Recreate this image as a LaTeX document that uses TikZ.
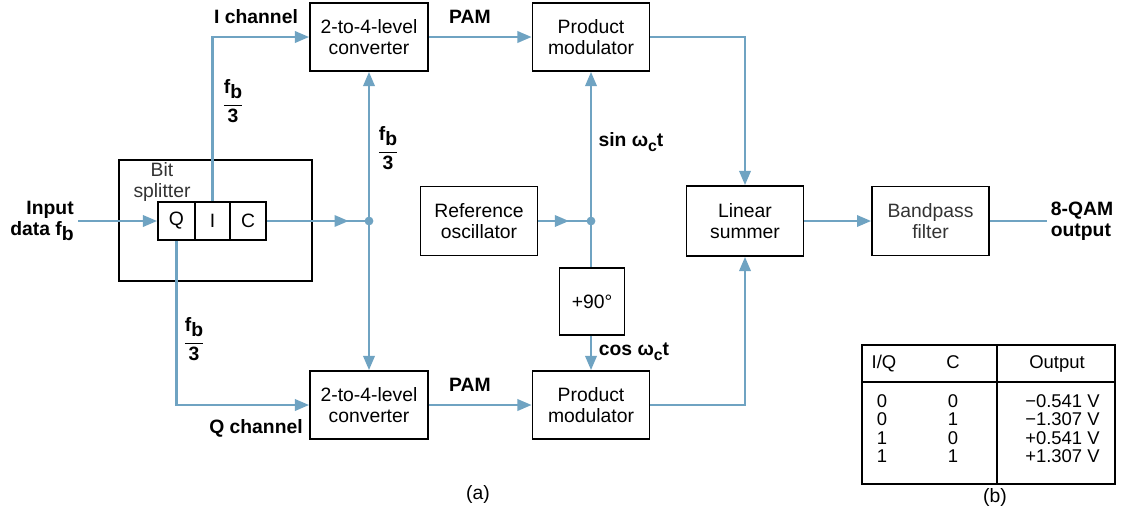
\documentclass[tikz,border=0pt]{standalone}
\usepackage{fontspec}
\setmainfont{Liberation Sans}
\usetikzlibrary{arrows.meta,decorations.markings}
\definecolor{wirec}{HTML}{6FA3C2}
\newcommand{\fbthree}{\begin{tabular}{@{}c@{}}f\raisebox{-0.5ex}{b}\\[2.5pt]\hline\noalign{\vskip 1.5pt}3\end{tabular}}
\newcommand{\omc}{ω\raisebox{-0.45ex}{\fontsize{9}{9}\selectfont c}}
\begin{document}
\begin{tikzpicture}[x=0.02cm,y=-0.02cm,
  font=\fontsize{11}{12}\selectfont,
  blk/.style={draw=black,line width=1.1pt,align=center,inner sep=0pt,minimum width=2.36cm,minimum height=1.36cm},
  cell/.style={draw=black,line width=1.1pt,inner sep=0pt,minimum height=0.76cm},
  wire/.style={draw=wirec,line width=1.2pt},
  tip/.style={-{Triangle[length=8pt,width=6.5pt]}},
  arr/.style={wire,tip},
  midarr/.style={wire,postaction={decorate},decoration={markings,mark=at position #1 with {\arrow{Triangle[length=8pt,width=6.5pt]}}}},
  lbl/.style={font=\fontsize{11}{12}\selectfont\bfseries,align=center,inner sep=0pt},
  frac/.style={font=\fontsize{11}{12}\selectfont\bfseries,inner sep=0pt},
  tab/.style={font=\fontsize{10.5}{12}\selectfont,inner sep=0pt,anchor=base},
  dot/.style={circle,fill=wirec,inner sep=0pt,minimum size=5pt}
]
\useasboundingbox (0,0) rectangle (1122,514);

% blocks
\node[blk] (conv1) at (369,37) {2-to-4-level\\converter};
\node[blk] (conv2) at (369,405) {2-to-4-level\\converter};
\node[blk,minimum width=2.34cm] (pm1) at (591,37) {Product\\modulator};
\node[blk,minimum width=2.34cm] (pm2) at (591,405) {Product\\modulator};
\node[blk,minimum width=2.34cm,minimum height=1.38cm] (ref) at (479,221) {Reference\\oscillator};
\node[blk,minimum width=1.3cm,minimum height=1.34cm] (p90) at (592,301.5) {+90°};
\node[blk,minimum width=2.34cm,minimum height=1.4cm] (sum) at (745,221) {Linear\\summer};
\node[blk,minimum width=2.34cm,minimum height=1.38cm,text=black!80] (bpf) at (930.5,221) {Bandpass\\filter};

% bit splitter
\node[draw=black,line width=1.1pt,minimum width=3.86cm,minimum height=2.42cm,inner sep=0pt] (split) at (215.5,220.5) {};
\node[align=center,inner sep=0pt,text=black!80] (splitlbl) at (162,182) {Bit\\splitter};
\node[cell,minimum width=0.74cm] (Q) at (176.5,221) {Q};
\node[cell,minimum width=0.70cm] (I) at (212.5,221) {I};
\node[cell,minimum width=0.72cm] (C) at (248,221) {C};

% labels
\node[lbl,align=right] (inlbl) at (42,221) {Input\\data f\raisebox{-0.45ex}{b}};
\coordinate (inStart) at (78,221);
\node[lbl] (ich) at (256,17) {I channel};
\node[lbl] (qch) at (256,428) {Q channel};
\node[lbl] (pam1) at (470,17) {PAM};
\node[lbl] (pam2) at (470,385) {PAM};
\node[frac] (fb1) at (233,104) {\fbthree};
\node[frac] (fb2) at (388,151) {\fbthree};
\node[frac] (fb3) at (194,342) {\fbthree};
\node[lbl] (sinl) at (631,142) {sin \omc t};
\node[lbl] (cosl) at (634,352) {cos \omc t};
\node[lbl,align=left] (outlbl) at (1082,221) {8-QAM\\output};
\coordinate (outEnd) at (1047,221);
\node[inner sep=0pt] (capa) at (478,494) {(a)};
\node[inner sep=0pt] (capb) at (995,497) {(b)};

% junctions
\coordinate (j1) at (369,221);
\coordinate (j2) at (591,221);

% wires
\draw[arr] (inStart) -- (Q.west);
\draw[arr] (I.north) |- (conv1.west);
\draw[arr] (Q.south) |- (conv2.west);
\draw[midarr=0.8] (C.east) -- (j1);
\draw[arr] (j1) -- (conv1.south);
\draw[arr] (j1) -- (conv2.north);
\draw[arr] (conv1.east) -- (pm1.west);
\draw[arr] (conv2.east) -- (pm2.west);
\draw[midarr=0.58] (ref.east) -- (j2);
\draw[arr] (j2) -- (pm1.south);
\draw[wire] (j2) -- (j2 |- p90.north);
\draw[arr] (p90.south -| pm2.north) -- (pm2.north);
\draw[arr] (pm1.east) -| (sum.north);
\draw[arr] (pm2.east) -| (sum.south);
\draw[arr] (sum.east) -- (bpf.west);
\draw[wire] (bpf.east) -- (outEnd);
\node[dot] (d1) at (j1) {};
\node[dot] (d2) at (j2) {};

% table
\draw[line width=1.2pt] (862,345) rectangle (1115,484);
\draw[line width=1.2pt] (862,382) -- (1115,382);
\draw[line width=1.2pt] (997,345) -- (997,484);
\node[tab] (h1) at (884,368) {I/Q};
\node[tab] (h2) at (953,368) {C};
\node[tab] (h3) at (1057,368) {Output};
\foreach \y/\a/\b/\v [count=\i] in {407/0/0/{−0.541 V},425/0/1/{−1.307 V},444/1/0/{+0.541 V},462/1/1/{+1.307 V}}{
  \node[tab] (ra\i) at (882,\y) {\a};
  \node[tab] (rb\i) at (953,\y) {\b};
  \node[tab,anchor=base east] (rv\i) at (1100,\y) {\v};
}
\end{tikzpicture}
\end{document}
